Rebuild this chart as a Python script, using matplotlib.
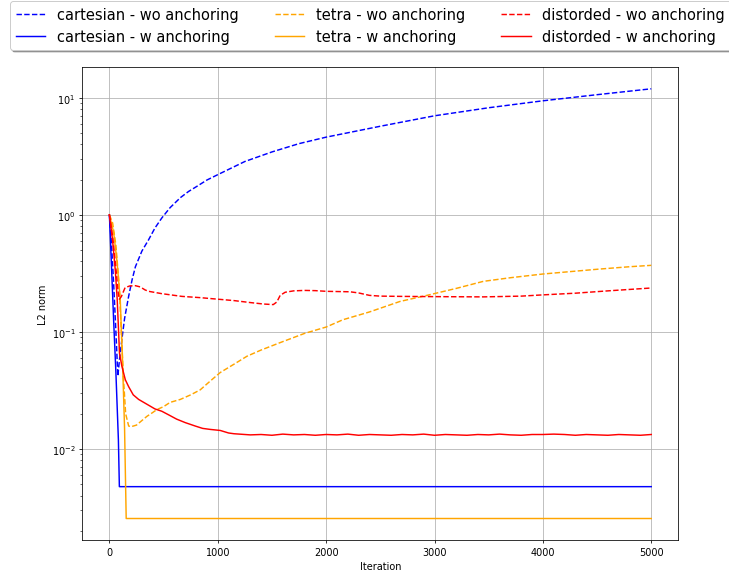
import matplotlib.pyplot as plt

# L2 norm vs iteration for each grid type, with and without anchoring
cart_wo_it = [0, 20, 40, 60, 78, 95, 115, 140, 177, 210, 240, 300, 361, 420, 484, 560, 655,
              730, 808, 900, 1000, 1250, 1500, 1750, 2000, 2500, 3000, 3500, 4000, 4500, 5000]
cart_wo = [1.0, 0.55, 0.25, 0.1, 0.042, 0.06, 0.086, 0.13, 0.2, 0.28, 0.36, 0.49, 0.61, 0.77,
           0.94, 1.15, 1.4, 1.58, 1.75, 1.98, 2.2, 2.85, 3.44, 4.05, 4.6, 5.7, 7.0, 8.2, 9.4, 10.6, 11.9]

cart_w_it = [0, 20, 40, 60, 83, 92, 5000]
cart_w = [1.0, 0.35, 0.12, 0.045, 0.012, 0.00477, 0.00477]

tetra_wo_it = [0, 30, 60, 90, 110, 130, 150, 178, 200, 250, 300, 346, 400, 438, 500, 560, 654,
               750, 838, 930, 1023, 1150, 1270, 1400, 1576, 1800, 2000, 2155, 2400, 2682, 2930,
               3200, 3450, 3700, 4000, 4300, 4525, 4800, 5000]
tetra_wo = [1.0, 0.85, 0.55, 0.25, 0.1, 0.04, 0.02, 0.0157, 0.0155, 0.016, 0.0175, 0.019, 0.0205,
            0.0217, 0.023, 0.025, 0.0265, 0.029, 0.032, 0.038, 0.045, 0.053, 0.062, 0.07, 0.081,
            0.097, 0.11, 0.127, 0.148, 0.182, 0.205, 0.235, 0.27, 0.29, 0.312, 0.33, 0.344, 0.36, 0.37]

tetra_w_it = [0, 40, 70, 100, 120, 140, 155, 5000]
tetra_w = [1.0, 0.7, 0.4, 0.19, 0.06, 0.015, 0.00255, 0.00255]

dist_wo_it = [0, 30, 60, 80, 91, 110, 145, 190, 240, 285, 330, 362, 484, 668, 840, 977, 1150,
              1300, 1420, 1512, 1545, 1576, 1622, 1700, 1800, 1900, 2000, 2220, 2300, 2400, 2500,
              2680, 3000, 3450, 3800, 4000, 4300, 4600, 5000]
dist_wo = [1.0, 0.65, 0.35, 0.22, 0.19, 0.2, 0.239, 0.247, 0.248, 0.242, 0.228, 0.222, 0.212,
           0.201, 0.196, 0.191, 0.185, 0.178, 0.173, 0.171, 0.18, 0.205, 0.218, 0.224, 0.226,
           0.225, 0.222, 0.22, 0.215, 0.205, 0.202, 0.201, 0.2, 0.199, 0.202, 0.207, 0.214,
           0.224, 0.237]

dist_w_it = [0, 30, 55, 72, 85, 93, 115, 147, 178, 220, 270, 350, 420, 484, 550, 620, 700, 793,
             860, 930, 1023, 1100, 1150, 1200, 1300, 1400, 1500, 1600, 1700, 1800, 1900, 2000,
             2100, 2200, 2300, 2400, 2500, 2600, 2700, 2800, 2900, 3000, 3100, 3200, 3300, 3400,
             3500, 3600, 3700, 3800, 3900, 4000, 4100, 4200, 4300, 4400, 4500, 4600, 4700, 4800,
             4900, 5000]
dist_w = [1.0, 0.6, 0.33, 0.19, 0.1, 0.066, 0.051, 0.039, 0.034, 0.029, 0.0265, 0.024, 0.022,
          0.021, 0.0195, 0.018, 0.0168, 0.0157, 0.015, 0.0147, 0.0144, 0.0137, 0.0135, 0.0134,
          0.0132, 0.0133, 0.0131, 0.0134, 0.0132, 0.0133, 0.0131, 0.0133, 0.0132, 0.0134,
          0.0131, 0.0133, 0.0132, 0.0131, 0.0133, 0.0132, 0.0134, 0.0131, 0.0133, 0.0132,
          0.0131, 0.0133, 0.0132, 0.0134, 0.0132, 0.0131, 0.0133, 0.0133, 0.0134, 0.0133,
          0.0131, 0.0133, 0.0132, 0.0131, 0.0133, 0.0132, 0.0131, 0.0133]

fig = plt.figure(figsize=(729 / 70, 577 / 70), dpi=70)
ax = fig.add_axes([0.1129, 0.0624, 0.8176, 0.8192])

ax.plot(cart_wo_it, cart_wo, '--', color='blue', label='cartesian - wo anchoring')
ax.plot(cart_w_it, cart_w, '-', color='blue', label='cartesian - w anchoring')
ax.plot(tetra_wo_it, tetra_wo, '--', color='orange', label='tetra - wo anchoring')
ax.plot(tetra_w_it, tetra_w, '-', color='orange', label='tetra - w anchoring')
ax.plot(dist_wo_it, dist_wo, '--', color='red', label='distorded - wo anchoring')
ax.plot(dist_w_it, dist_w, '-', color='red', label='distorded - w anchoring')

ax.set_yscale('log')
ax.set_xlabel('Iteration')
ax.set_ylabel('L2 norm')
ax.grid(True)
# wide legend across the top of the figure
fig.legend(loc='upper left', bbox_to_anchor=(10 / 729, 1 - 2 / 577), borderaxespad=0,
           ncol=3, shadow=True, fontsize=15, columnspacing=2.5)

fig.savefig('out.png', dpi=70)
